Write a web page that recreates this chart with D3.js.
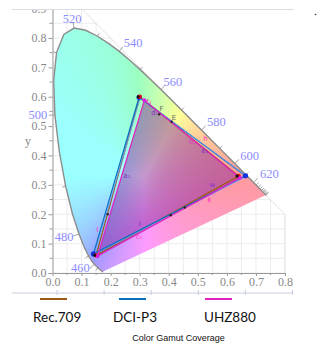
<!DOCTYPE html>
<html><head><meta charset="utf-8">
<script src="https://cdn.jsdelivr.net/npm/d3@7"></script>
<style>html,body{margin:0;padding:0;background:#fff;}svg{display:block;}</style>
</head><body>
<svg id="c" width="334" height="354"></svg>
<script>
// ---- data ----
const wavelengths = [380,385,390,395,400,405,410,415,420,425,430,435,440,445,450,455,460,465,470,475,480,485,490,495,500,505,510,515,520,525,530,535,540,545,550,555,560,565,570,575,580,585,590,595,600,605,610,615,620,625,630,635,640,645,650,660,670,680,700];
const locusX = [0.1741,0.1740,0.1738,0.1736,0.1733,0.1730,0.1726,0.1721,0.1714,0.1703,0.1689,0.1669,0.1644,0.1611,0.1566,0.1510,0.1440,0.1355,0.1241,0.1096,0.0913,0.0687,0.0454,0.0235,0.0082,0.0039,0.0139,0.0389,0.0743,0.1142,0.1547,0.1929,0.2296,0.2658,0.3016,0.3373,0.3731,0.4087,0.4441,0.4788,0.5125,0.5448,0.5752,0.6029,0.6270,0.6482,0.6658,0.6801,0.6915,0.7006,0.7079,0.7140,0.7190,0.7230,0.7260,0.7300,0.7334,0.7347,0.7347];
const locusY = [0.0050,0.0050,0.0049,0.0049,0.0048,0.0048,0.0048,0.0048,0.0051,0.0058,0.0069,0.0086,0.0109,0.0138,0.0177,0.0227,0.0297,0.0399,0.0578,0.0868,0.1327,0.2007,0.2950,0.4127,0.5384,0.6548,0.7502,0.8120,0.8338,0.8262,0.8059,0.7816,0.7543,0.7243,0.6923,0.6589,0.6245,0.5896,0.5547,0.5202,0.4866,0.4544,0.4242,0.3965,0.3725,0.3514,0.3340,0.3197,0.3083,0.2993,0.2920,0.2859,0.2809,0.2770,0.2740,0.2700,0.2666,0.2653,0.2653];
const labelWavelengths = [460,480,500,520,540,560,580,600,620];
const tickWavelengths = [450,460,470,480,490,500,510,520,530,540,550,560,570,580,590,600,610,620,625,630,635,640,645,650,660,670,680];

const gamutNames = ["Rec.709","DCI-P3","UHZ880"];
const gamutColors = ["#9c5a14","#0a70c0","#e020c0"];
const rec709X = [0.64,0.30,0.15], rec709Y = [0.33,0.60,0.06];
const dciX = [0.664,0.298,0.141], dciY = [0.331,0.598,0.065];
const uhzX = [0.645,0.316,0.155], uhzY = [0.324,0.588,0.058];

const markX = [0.367,0.41,0.455,0.407,0.19];
const markY = [0.540,0.515,0.223,0.197,0.20];
const annText = ["F","E","f\u2081","d\u2081","h","b\u2081","e\u2081","w","k","a\u2081","I","I","c\u2081"];
const annX = [0.375,0.418,0.332,0.352,0.526,0.482,0.525,0.55,0.54,0.256,0.155,0.30,0.298];
const annY = [0.558,0.527,0.582,0.545,0.456,0.445,0.415,0.30,0.25,0.33,0.146,0.167,0.122];
const annColor = ["#666","#666","#e040c0","#8030c0","#ff30c0","#e040c0","#8030c0","#8030c0","#ff30c0","#8030c0","#ff40c0","#8030c0","#ff40c0"];

const xTicks = [0,0.1,0.2,0.3,0.4,0.5,0.6,0.7,0.8];
const yTicks = [0,0.1,0.2,0.3,0.4,0.5,0.6,0.7,0.8,0.9];

// label placement offsets (px) relative to locus point
const labelOffsets = {460:[-14,4],480:[-15,3],500:[-17,0],520:[-2,-9],540:[14,-8],560:[12,-7.5],580:[15,-8],600:[15,-8],620:[16,-8]};

// ---- scales ----
const x = d3.scaleLinear().domain([0,0.8]).range([52.5,285]);
const y = d3.scaleLinear().domain([0,0.9]).range([273,8.6]);
const svg = d3.select("#c");

// grid within x+y<=1
const defs = svg.append("defs");
const triPts = [[0,0],[0.8,0],[0.8,0.2],[0.1,0.9],[0,0.9]];
defs.append("clipPath").attr("id","gclip").append("path")
  .attr("d", d3.line().x(d=>x(d[0])).y(d=>y(d[1]))(triPts)+"Z");
const grid = svg.append("g").attr("clip-path","url(#gclip)");
const gstep = d3.range(0,0.91,0.05);
grid.selectAll(".gv").data(gstep.filter(v=>v<=0.8)).join("line")
  .attr("x1",d=>x(d)).attr("x2",d=>x(d)).attr("y1",y(0)).attr("y2",y(0.9))
  .attr("stroke","#ececec").attr("stroke-width",1);
grid.selectAll(".gh").data(gstep).join("line")
  .attr("y1",d=>y(d)).attr("y2",d=>y(d)).attr("x1",x(0)).attr("x2",x(0.8))
  .attr("stroke","#ececec").attr("stroke-width",1);
svg.append("line").attr("x1",x(0.1)).attr("y1",y(0.9)).attr("x2",x(0.8)).attr("y2",y(0.2))
  .attr("stroke","#e2e2e2");
svg.append("line").attr("x1",x(0.8)).attr("y1",y(0)).attr("x2",x(0.8)).attr("y2",y(0.2))
  .attr("stroke","#e2e2e2");

// chromaticity fill
const locus = wavelengths.map((w,i)=>({w, x:locusX[i], y:locusY[i]}));
const locusPath = d3.line().x(d=>x(d.x)).y(d=>y(d.y));
defs.append("clipPath").attr("id","lclip").append("path").attr("d", locusPath(locus)+"Z");

function gam(c){c=Math.max(0,Math.min(1,c));return c<=0.0031308?12.92*c:1.055*Math.pow(c,1/2.4)-0.055;}
function xyColor(cx,cy){
  if(cy<0.002) cy=0.002;
  const X=cx/cy, Y=1, Z=(1-cx-cy)/cy;
  let r= 3.2406*X-1.5372*Y-0.4986*Z;
  let g=-0.9689*X+1.8758*Y+0.0415*Z;
  let b= 0.0557*X-0.2040*Y+1.0570*Z;
  const m=Math.min(r,g,b); if(m<0){r-=m;g-=m;b-=m;}
  const M=Math.max(r,g,b); r/=M; g/=M; b/=M;
  b = Math.min(1, b + 0.3*g*Math.max(0,1-r*1.3));
  const k=0.33; r=r*(1-k)+k; g=g*(1-k)+k; b=b*(1-k)+k;
  return [gam(r)*255,gam(g)*255,gam(b)*255];
}
const W=334,H=354;
const cv=document.createElement("canvas"); cv.width=W; cv.height=H;
const ctx=cv.getContext("2d"); const img=ctx.createImageData(W,H);
for(let py=0;py<H;py++){for(let px=0;px<W;px++){
  const cx=x.invert(px+0.5), cy=y.invert(py+0.5);
  if(cx<-0.01||cx>0.76||cy<-0.01||cy>0.85) continue;
  const c=xyColor(cx,cy); const o=(py*W+px)*4;
  img.data[o]=c[0];img.data[o+1]=c[1];img.data[o+2]=c[2];img.data[o+3]=255;
}}
ctx.putImageData(img,0,0);
svg.append("image").attr("href",cv.toDataURL()).attr("x",0).attr("y",0).attr("width",W).attr("height",H)
  .attr("clip-path","url(#lclip)");

// locus outline (spectral part only)
svg.append("path").attr("d",locusPath(locus)).attr("fill","none").attr("stroke","#8c8c8c").attr("stroke-width",1.4);

// wavelength ticks & labels
function normalAt(w){
  const i=wavelengths.indexOf(w);
  const a=locus[Math.max(0,i-1)], b=locus[Math.min(locus.length-1,i+1)];
  const dx=x(b.x)-x(a.x), dy=y(b.y)-y(a.y), L=Math.hypot(dx,dy)||1;
  return [dy/L,-dx/L];
}
const tk=svg.append("g");
tickWavelengths.forEach(w=>{
  const i=wavelengths.indexOf(w); const p=locus[i]; const n=normalAt(w);
  const len = labelWavelengths.includes(w)?6:3.5;
  tk.append("line").attr("x1",x(p.x)).attr("y1",y(p.y)).attr("x2",x(p.x)+n[0]*len).attr("y2",y(p.y)+n[1]*len)
    .attr("stroke","#8c8c8c").attr("stroke-width",0.8);
});
labelWavelengths.forEach(w=>{
  const i=wavelengths.indexOf(w); const p=locus[i]; const o=labelOffsets[w];
  tk.append("text").attr("x",x(p.x)+o[0]).attr("y",y(p.y)+o[1])
    .attr("text-anchor","middle").attr("dominant-baseline","central")
    .attr("font-family","Liberation Serif, serif").attr("font-size",12.5).attr("fill","#8c8cff").text(w);
});

// gamut triangles
const gamuts=[[rec709X,rec709Y],[dciX,dciY],[uhzX,uhzY]].map((g,i)=>({name:gamutNames[i],color:gamutColors[i],pts:g[0].map((v,j)=>[v,g[1][j]])}));
const triLine=d3.line().x(d=>x(d[0])).y(d=>y(d[1]));
svg.append("path").attr("d",triLine(gamuts[2].pts)+"Z").attr("fill","rgba(120,20,150,0.44)").attr("stroke","none");
svg.append("path").attr("d",triLine(gamuts[0].pts)+"Z").attr("fill","none").attr("stroke",gamuts[0].color).attr("stroke-width",1.2);
svg.append("path").attr("d",triLine(gamuts[1].pts)+"Z").attr("fill","none").attr("stroke",gamuts[1].color).attr("stroke-width",1.3);
svg.append("path").attr("d",triLine(gamuts[1].pts.map(p=>[p[0]+0.004,p[1]-0.002]))+"Z").attr("fill","none").attr("stroke","#6aa0ff").attr("stroke-width",0.8);
svg.append("path").attr("d",triLine(gamuts[2].pts)+"Z").attr("fill","none").attr("stroke",gamuts[2].color).attr("stroke-width",1.2);

// vertex dots
const dots=svg.append("g");
gamuts[1].pts.forEach(p=>dots.append("circle").attr("cx",x(p[0])).attr("cy",y(p[1])).attr("r",2.6).attr("fill","#1030e0"));
gamuts[0].pts.forEach(p=>dots.append("circle").attr("cx",x(p[0])).attr("cy",y(p[1])).attr("r",2.3).attr("fill","#e01010"));
gamuts[2].pts.forEach(p=>dots.append("circle").attr("cx",x(p[0])).attr("cy",y(p[1])).attr("r",2).attr("fill","#e020e0"));
gamuts[0].pts.forEach(p=>dots.append("circle").attr("cx",x(p[0])-1.5).attr("cy",y(p[1])).attr("r",1.5).attr("fill","#111"));
markX.forEach((v,i)=>dots.append("circle").attr("cx",x(v)).attr("cy",y(markY[i])).attr("r",1.2).attr("fill","#222"));
annText.forEach((t,i)=>svg.append("text").attr("x",x(annX[i])).attr("y",y(annY[i])).attr("text-anchor","middle")
  .attr("dominant-baseline","central").attr("font-family","DejaVu Sans, sans-serif").attr("font-size",7).attr("fill",annColor[i]).text(t));

// axes
const ax=svg.append("g").attr("transform",`translate(${x(0)},0)`)
  .call(d3.axisLeft(y).tickValues(yTicks).tickFormat(d3.format(".1f")).tickSize(4).tickPadding(2).tickSizeOuter(0));
ax.selectAll("line,path").attr("stroke","#999");
ax.selectAll("text").attr("font-family","Liberation Serif, serif").attr("font-size",12).attr("fill","#888");
svg.append("g").selectAll("line").data(d3.range(0.05,0.9,0.1)).join("line")
  .attr("x1",x(0)-3).attr("x2",x(0)).attr("y1",d=>y(d)).attr("y2",d=>y(d)).attr("stroke","#999");
const bx=svg.append("g").attr("transform",`translate(0,${y(0)})`)
  .call(d3.axisBottom(x).tickValues(xTicks).tickFormat(d3.format(".1f")).tickSize(3).tickPadding(1).tickSizeOuter(0));
bx.selectAll("line,path").attr("stroke","#999");
bx.selectAll("text").attr("font-family","Liberation Serif, serif").attr("font-size",12).attr("fill","#888");
svg.append("g").selectAll("line").data(d3.range(0.05,0.8,0.1)).join("line")
  .attr("y1",y(0)).attr("y2",y(0)+2).attr("x1",d=>x(d)).attr("x2",d=>x(d)).attr("stroke","#999");
svg.append("text").attr("x",28).attr("y",145).attr("font-family","Liberation Serif, serif").attr("font-size",12).attr("fill","#888").attr("text-anchor","middle").text("y");

// crop top & frame lines
svg.append("rect").attr("x",0).attr("y",0).attr("width",300).attr("height",9).attr("fill","#fff");
svg.append("line").attr("x1",12).attr("x2",294).attr("y1",9.5).attr("y2",9.5).attr("stroke","#dcdce4");
svg.append("circle").attr("cx",315.5).attr("cy",14.5).attr("r",0.8).attr("fill","#333");

// legend
const legY=293;
svg.append("line").attr("x1",12).attr("x2",293).attr("y1",legY).attr("y2",legY).attr("stroke","#c8cee0");
svg.append("g").selectAll("line").data(d3.range(0,6)).join("line")
  .attr("x1",d=>57+d*47.1).attr("x2",d=>57+d*47.1).attr("y1",legY-3).attr("y2",legY+2).attr("stroke","#c8cee0");
const legX=[40,119,205], legTX=[33,113,204];
gamuts.forEach((g,i)=>{
  svg.append("line").attr("x1",legX[i]).attr("x2",legX[i]+27).attr("y1",299).attr("y2",299).attr("stroke",g.color).attr("stroke-width",2);
  svg.append("text").attr("x",legTX[i]).attr("y",322).attr("font-family","Lato, sans-serif").attr("font-size",13.5).attr("fill","#111").text(g.name);
});
svg.append("text").attr("x",178.5).attr("y",341).attr("text-anchor","middle").attr("font-family","Liberation Sans, Arial, sans-serif")
  .attr("font-size",9).attr("fill","#111").text("Color Gamut Coverage");
</script>
</body></html>
